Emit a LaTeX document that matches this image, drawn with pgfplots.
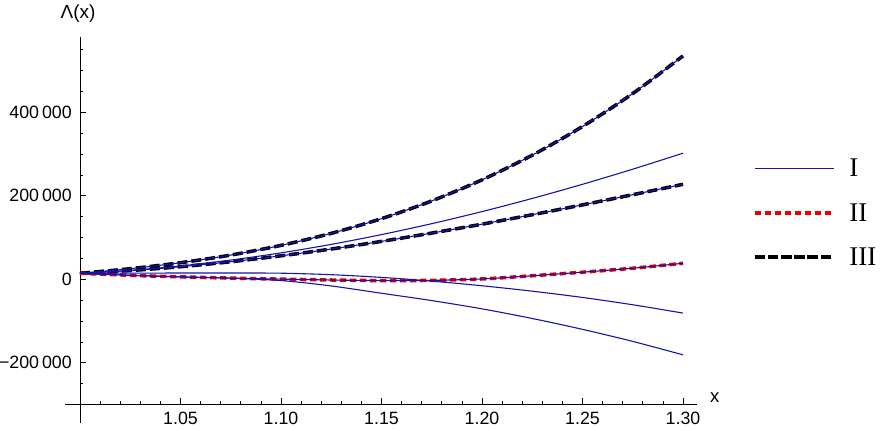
\documentclass[border=0pt]{standalone}
\usepackage{pgfplots}
\pgfplotsset{compat=1.18}
\usepackage{pgfplotstable}
\usepackage{fontspec}
\setmainfont{Liberation Sans}
\newfontfamily\legfont{Liberation Serif}
\definecolor{Iblue}{RGB}{20,20,170}
\definecolor{IIred}{RGB}{235,0,0}

\pgfplotstableread{
x      A       B       C       D       E       F
1.000  14400   14400   14400   14400   14400   14400
1.025  25400   21400   20900   9500    14700   9500
1.050  39700   32000   30100   5800    15000   5800
1.075  58000   46000   42000   2800    15000   2600
1.100  81200   63300   56200   400     14600   -3000
1.125  110000  83600   72500   -1700   11000   -16000
1.150  145200  107000  90800   -3200   4500    -33500
1.175  187700  133200  110700  -2600   -4500   -51000
1.200  238100  162100  132000  800     -15500  -70800
1.225  297200  193600  154600  8500    -28500  -93900
1.250  365900  227500  178200  17000   -43500  -119900
1.275  444900  263700  202600  26500   -61000  -148800
1.300  535000  302000  227500  38300   -81000  -181000
}\data

\begin{document}
\begin{tikzpicture}
\begin{axis}[
  at={(0,0)}, anchor=south west,
  scale only axis, width=632bp, height=386.3bp,
  xmin=0.99254, xmax=1.30697, ymin=-344200, ymax=581000,
  axis lines=left,
  axis line style={-, black, line width=0.7bp},
  x axis line style={-}, y axis line style={-},
  axis x line shift=-18.45bp,
  axis y line shift=-15bp,
  tick align=inside,
  major tick length=6.5bp, minor tick length=3.5bp,
  every tick/.style={black, line width=0.7bp},
  xtick={1.05,1.10,1.15,1.20,1.25,1.30},
  xticklabels={1.05,1.10,1.15,1.20,1.25,1.30},
  minor xtick={1.01,1.02,1.03,1.04,1.06,1.07,1.08,1.09,1.11,1.12,1.13,1.14,1.16,1.17,1.18,1.19,1.21,1.22,1.23,1.24,1.26,1.27,1.28,1.29},
  ytick={-200000,0,200000,400000},
  yticklabels={−200\,000,0,200\,000,400\,000},
  minor ytick={-300000,-250000,-150000,-100000,-50000,50000,100000,150000,250000,300000,350000,450000,500000,550000},
  scaled y ticks=false, scaled x ticks=false,
  ticklabel style={font=\fontsize{17.8bp}{20bp}\selectfont},
  xticklabel style={inner sep=0pt, yshift=-7.5bp},
  yticklabel style={inner sep=0pt, xshift=-8bp},
  clip=false,
  legend style={draw=none, fill=none, at={(axis description cs:1.0881,0.5436)}, anchor=west,
    inner sep=0pt, row sep=25bp, column sep=14bp,
    font=\legfont\fontsize{27bp}{29bp}\selectfont, nodes={inner sep=0pt}},
  legend cell align=left,
  legend image code/.code={\draw[#1] (0bp,0bp) -- (79bp,0bp);},
]
\addlegendimage{Iblue, line width=1.1bp}
\addlegendimage{IIred, line width=3.5bp, dash pattern=on 6.5bp off 3.5bp}
\addlegendimage{black, line width=3.5bp, dash pattern=on 10.5bp off 2.7bp}

\addplot[black, line width=3.5bp, dash pattern=on 10bp off 4bp, smooth, forget plot] table[x=x,y=A]{\data};
\addplot[black, line width=3.5bp, dash pattern=on 10bp off 4bp, smooth, forget plot] table[x=x,y=C]{\data};
\addplot[IIred, line width=3.5bp, dash pattern=on 6.5bp off 3.5bp, smooth, forget plot] table[x=x,y=D]{\data};
\addplot[Iblue, line width=1.1bp, smooth, forget plot] table[x=x,y=A]{\data};
\addplot[Iblue, line width=1.1bp, smooth, forget plot] table[x=x,y=B]{\data};
\addplot[Iblue, line width=1.1bp, smooth, forget plot] table[x=x,y=C]{\data};
\addplot[Iblue, line width=1.1bp, smooth, forget plot] table[x=x,y=D]{\data};
\addplot[Iblue, line width=1.1bp, smooth, forget plot] table[x=x,y=E]{\data};
\addplot[Iblue, line width=1.1bp, smooth, forget plot] table[x=x,y=F]{\data};
\legend{I,II,III}

\node[anchor=west, inner sep=0pt, font=\fontsize{18.5bp}{20bp}\selectfont, xshift=13bp, yshift=7bp] at (axis cs:1.30697,-300000) {x};
\node[anchor=center, inner sep=0pt, font=\fontsize{19bp}{21bp}\selectfont, xshift=-2bp, yshift=22.7bp] at (axis cs:1.0,581000) {Λ(x)};
\end{axis}
\pgfresetboundingbox
\path (-65bp,-8bp) rectangle (822bp,423bp);
\end{tikzpicture}
\end{document}
